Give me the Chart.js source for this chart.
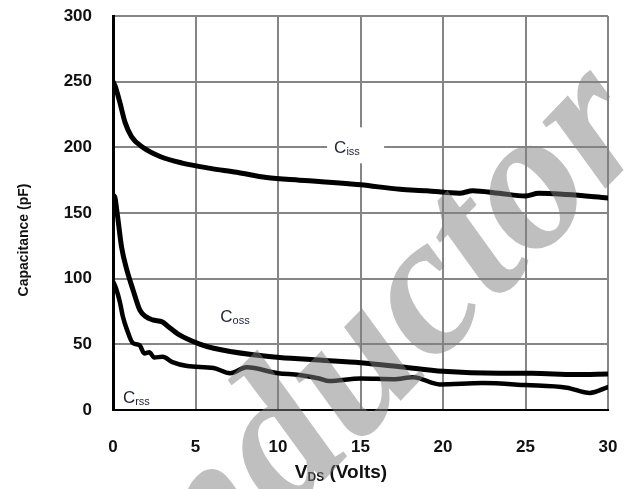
<!DOCTYPE html>
<html>
<head>
<meta charset="utf-8">
<script src="https://cdn.jsdelivr.net/npm/chart.js@4.4.1/dist/chart.umd.min.js"></script>
<style>
  html, body { margin: 0; padding: 0; background: #fff; }
  #wrap { width: 628px; height: 489px; }
</style>
</head>
<body>
<div id="wrap"><canvas id="grafico" width="628" height="489"></canvas></div>
<script>
// dati (V_DS in Volt, capacità in pF)
const vCiss = [0, 0.12, 0.42, 0.73, 1.13, 1.8, 2.85, 4.2, 5.9, 7.5, 9.3, 11.3, 12.5, 15, 17.4, 19, 21, 21.8, 23.4, 25, 25.8, 27.5, 30];
const cCiss = [250, 247, 234, 219, 208, 200, 193, 188, 184, 181, 177, 175, 174, 171.5, 168, 167, 165, 167, 165, 163, 165, 164, 161.5];

const vCoss = [0, 0.08, 0.25, 0.52, 0.83, 1.2, 1.63, 2.0, 2.4, 3.0, 3.3, 4.05, 5.3, 6.1, 8.5, 10.1, 12.5, 15, 17.4, 20, 23.4, 25.4, 28, 30];
const cCoss = [150, 163, 150, 124, 107, 92, 76, 71, 68.6, 67, 64, 57, 50, 47, 42, 40, 38, 36, 33, 29.5, 28, 28, 27, 27.5];

const vCrss = [0, 0.2, 0.42, 0.6, 0.85, 1.2, 1.6, 1.9, 2.2, 2.5, 3.0, 3.6, 4.5, 6.1, 7.1, 8.1, 10, 11.3, 12.5, 13.1, 15, 17, 18.2, 19.8, 22.4, 25, 27.5, 28.9, 30];
const cCrss = [98, 92, 82, 71, 61, 51, 49.5, 43, 44, 40, 40.5, 36.5, 33.5, 32, 28, 32.5, 28, 26.7, 24, 22, 24, 23.5, 25, 19.5, 20.5, 19, 17, 13, 17.5];

const tickX = [0, 5, 10, 15, 20, 25, 30];
const tickY = [0, 50, 100, 150, 200, 250, 300];

const etichette = [
    { base: 'C', sub: 'iss', v: 13.4, c: 200 },
    { base: 'C', sub: 'oss', v: 6.5, c: 71.5 },
    { base: 'C', sub: 'rss', v: 0.6, c: 10 }
];

const accoppia = (xs, ys) => xs.map((x, i) => ({ x: x, y: ys[i] }));

const serie = (dati, spessore) => ({
    data: dati,
    showLine: true,
    borderColor: '#000',
    borderWidth: spessore,
    pointRadius: 0,
    tension: 0.3,
    cubicInterpolationMode: 'monotone',
    borderCapStyle: 'round',
    borderJoinStyle: 'round'
});

const FONT = '"Liberation Sans", Arial, sans-serif';

// toglie la griglia dietro l'etichetta Ciss
const pluginSfondoEtichetta = {
    id: 'sfondoEtichetta',
    beforeDatasetsDraw(chart) {
        const ctx = chart.ctx;
        const x = chart.scales.x, y = chart.scales.y;
        const px = x.getPixelForValue(etichette[0].v);
        const py = y.getPixelForValue(etichette[0].c);
        ctx.save();
        ctx.fillStyle = '#fff';
        ctx.fillRect(px - 7, py - 20, 57, 36);
        ctx.restore();
    }
};

const pluginTesti = {
    id: 'testi',
    afterDraw(chart) {
        const ctx = chart.ctx;
        const x = chart.scales.x, y = chart.scales.y;
        ctx.save();
        ctx.fillStyle = '#1d2238';
        ctx.textBaseline = 'alphabetic';
        etichette.forEach(e => {
            const px = x.getPixelForValue(e.v);
            const py = y.getPixelForValue(e.c) + 6;
            ctx.font = '17px ' + FONT;
            ctx.fillText(e.base, px, py);
            const w = ctx.measureText(e.base).width;
            ctx.font = '11px ' + FONT;
            ctx.fillText(e.sub, px + w, py + 2);
        });

        // titoli assi
        ctx.fillStyle = '#111';
        const t1 = 'V', t2 = 'DS', t3 = ' (Volts)';
        ctx.font = 'bold 19px ' + FONT;
        const w1 = ctx.measureText(t1).width, w3 = ctx.measureText(t3).width;
        ctx.font = 'bold 12px ' + FONT;
        const w2 = ctx.measureText(t2).width;
        let sx = 341 - (w1 + w2 + w3) / 2;
        const by = 478;
        ctx.font = 'bold 19px ' + FONT;
        ctx.fillText(t1, sx, by);
        ctx.font = 'bold 12px ' + FONT;
        ctx.fillText(t2, sx + w1, by + 3);
        ctx.font = 'bold 19px ' + FONT;
        ctx.fillText(t3, sx + w1 + w2, by);

        ctx.save();
        ctx.translate(28, 240);
        ctx.rotate(-Math.PI / 2);
        ctx.textAlign = 'center';
        ctx.font = 'bold 14px ' + FONT;
        ctx.fillText('Capacitance (pF)', 0, 0);
        ctx.restore();

        // filigrana
        const fs = 200;
        ctx.font = 'bold italic ' + fs + 'px "Liberation Serif", "DejaVu Serif", serif';
        const testo = 'nductor';
        const off = ctx.measureText('ndu').width + ctx.measureText('c').width / 2;
        ctx.translate(432, 305);
        ctx.rotate(-46 * Math.PI / 180);
        ctx.fillStyle = 'rgba(128,128,128,0.5)';
        ctx.fillText(testo, -off, fs * 0.22);
        ctx.restore();
    }
};

new Chart(document.getElementById('grafico'), {
    type: 'scatter',
    data: {
        datasets: [
            serie(accoppia(vCiss, cCiss), 5),
            serie(accoppia(vCoss, cCoss), 5),
            serie(accoppia(vCrss, cCrss), 4.5)
        ]
    },
    options: {
        responsive: false,
        animation: false,
        events: [],
        layout: { padding: { left: 0, right: 20, top: 16, bottom: 0 } },
        plugins: { legend: { display: false }, tooltip: { enabled: false } },
        scales: {
            x: {
                type: 'linear', min: 0, max: 30,
                afterBuildTicks: s => { s.ticks = tickX.map(v => ({ value: v })); },
                afterFit: s => { s.height = 79; s.paddingLeft = 0; s.paddingRight = 0; },
                grid: { color: '#858585', lineWidth: 2, drawTicks: false },
                border: { color: '#000', width: 2 },
                ticks: { padding: 27, color: '#111', font: { family: FONT, size: 17, weight: 'bold' } }
            },
            y: {
                min: 0, max: 300,
                afterBuildTicks: s => { s.ticks = tickY.map(v => ({ value: v })); },
                afterFit: s => { s.width = 113; s.paddingTop = 0; s.paddingBottom = 0; },
                grid: { color: '#858585', lineWidth: 2, drawTicks: false },
                border: { color: '#000', width: 3 },
                ticks: { padding: 21, color: '#111', font: { family: FONT, size: 17, weight: 'bold' } }
            }
        }
    },
    plugins: [pluginSfondoEtichetta, pluginTesti]
});
</script>
</body>
</html>
